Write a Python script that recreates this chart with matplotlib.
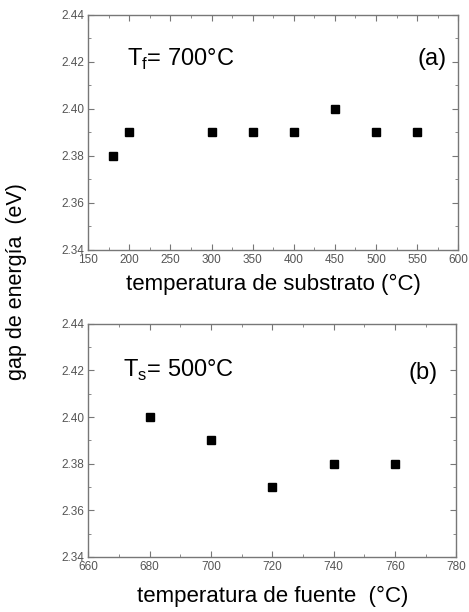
import matplotlib
matplotlib.use("Agg")
import matplotlib.pyplot as plt
from matplotlib.ticker import MultipleLocator, FormatStrFormatter

# --- data ---
x_sub = [180, 200, 300, 350, 400, 450, 500, 550]
gap_sub = [2.38, 2.39, 2.39, 2.39, 2.39, 2.40, 2.39, 2.39]

x_fue = [680, 700, 720, 740, 760]
gap_fue = [2.40, 2.39, 2.37, 2.38, 2.38]

plt.rcParams["font.family"] = ["Liberation Sans", "DejaVu Sans"]

fig = plt.figure(figsize=(4.69, 6.12), dpi=100)
fig.patch.set_facecolor("white")
ax1 = fig.add_axes([0.188, 0.592, 0.789, 0.384])
ax2 = fig.add_axes([0.188, 0.090, 0.785, 0.381])

frame = "#777777"


def style(ax, xmaj, xmin):
    for s in ax.spines.values():
        s.set_color(frame)
        s.set_linewidth(1.0)
    ax.set_ylim(2.34, 2.44)
    ax.yaxis.set_major_locator(MultipleLocator(0.02))
    ax.yaxis.set_minor_locator(MultipleLocator(0.01))
    ax.yaxis.set_major_formatter(FormatStrFormatter("%.2f"))
    ax.xaxis.set_major_locator(MultipleLocator(xmaj))
    ax.xaxis.set_minor_locator(MultipleLocator(xmin))
    ax.tick_params(which="both", direction="in", top=True, right=True,
                   color=frame, labelcolor="#555555", labelsize=8.5)
    ax.tick_params(which="major", length=4, pad=3)
    ax.tick_params(which="minor", length=2)


ax1.plot(x_sub, gap_sub, "s", color="black", markersize=5.5)
ax1.set_xlim(150, 600)
style(ax1, 50, 25)
ax1.set_xlabel("temperatura de substrato (°C)", fontsize=16, labelpad=6)
ax1.text(0.105, 0.81, r"T$_\mathregular{f}$= 700°C", transform=ax1.transAxes,
         fontsize=17, va="center")
ax1.text(0.97, 0.81, "(a)", transform=ax1.transAxes, fontsize=17,
         ha="right", va="center")

ax2.plot(x_fue, gap_fue, "s", color="black", markersize=5.5)
ax2.set_xlim(660, 780)
style(ax2, 20, 10)
ax2.set_xlabel("temperatura de fuente  (°C)", fontsize=16, labelpad=9)
ax2.text(0.095, 0.80, r"T$_\mathregular{s}$= 500°C", transform=ax2.transAxes,
         fontsize=17, va="center")
ax2.text(0.95, 0.79, "(b)", transform=ax2.transAxes, fontsize=17,
         ha="right", va="center")

fig.text(0.036, 0.54, "gap de energía  (eV)", rotation=90,
         fontsize=15.5, ha="center", va="center")

plt.savefig("out.png", dpi=100)
